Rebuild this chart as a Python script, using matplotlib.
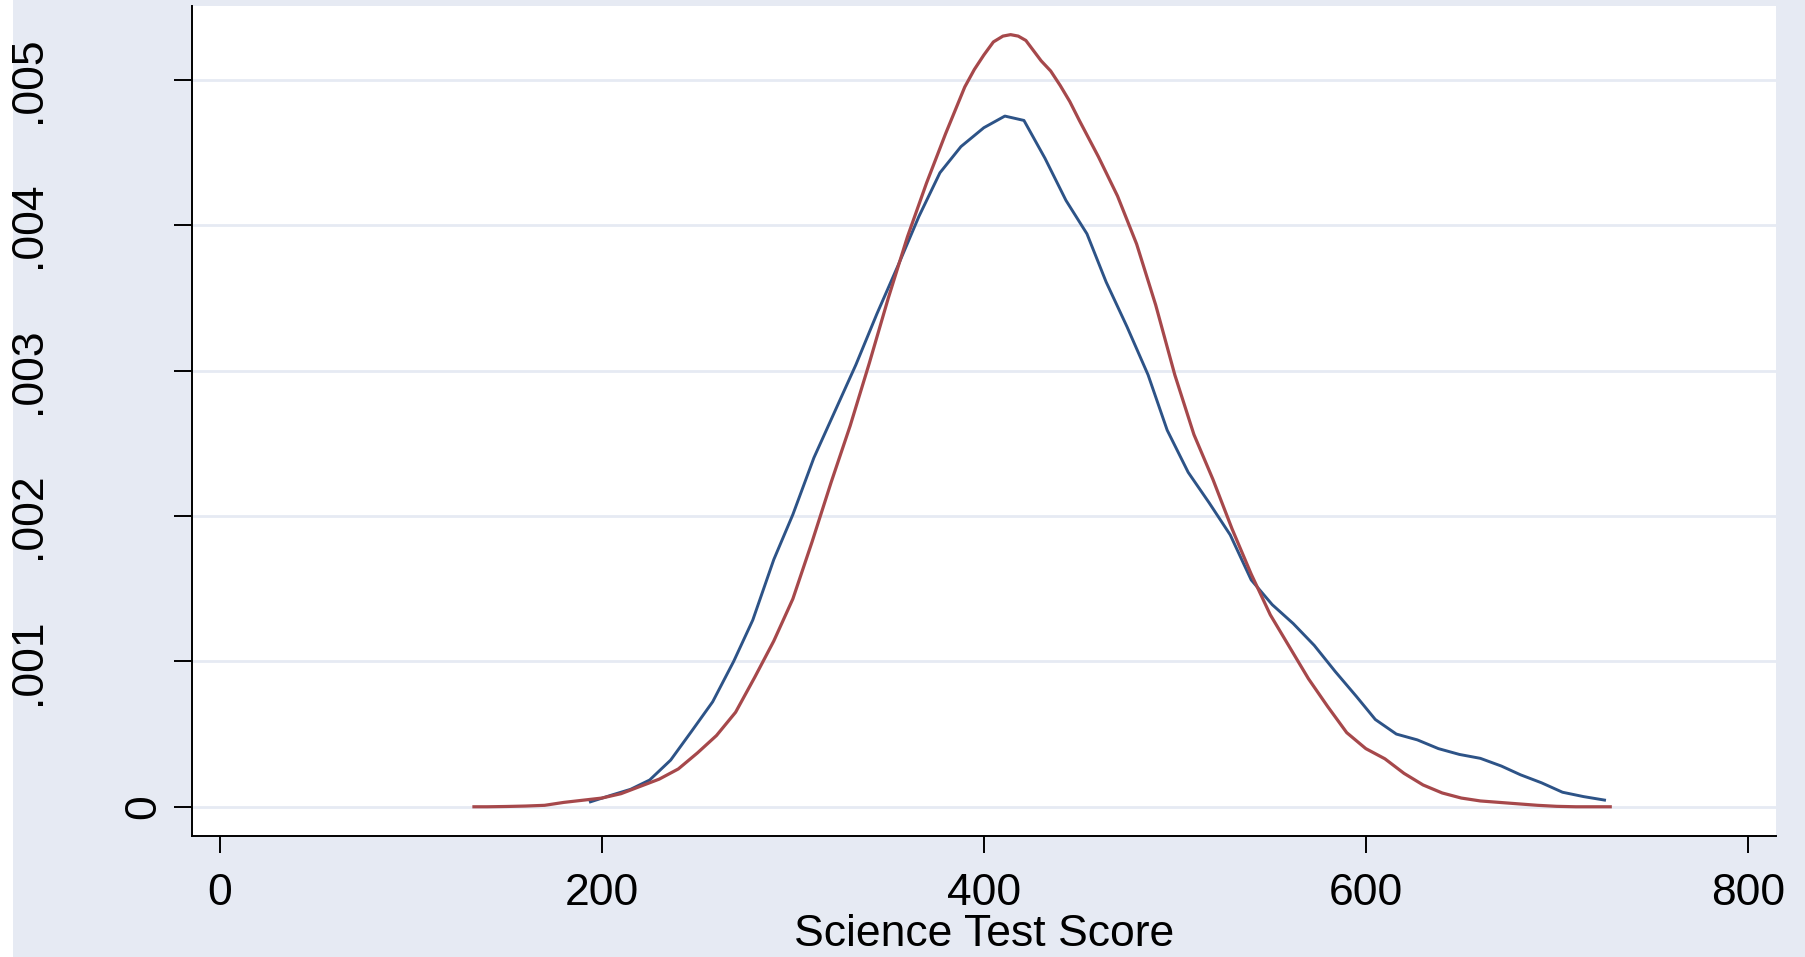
import numpy as np
from matplotlib import pyplot as plt
from matplotlib.transforms import blended_transform_factory
from matplotlib.patches import Rectangle

# kernel density of science score (blue)
kde_x = [194, 205, 215, 225, 236, 247, 258, 269, 279, 290,
         300, 311, 322, 333, 344, 355, 366, 377, 388, 400,
         411, 421, 432, 443, 454, 464, 475, 486, 496, 507,
         518, 529, 540, 551, 562, 573, 584, 595, 605, 616,
         627, 638, 649, 660, 671, 681, 692, 703, 714, 725]
kde_y = [0.000034, 0.00008, 0.00012, 0.000184, 0.000321, 0.00052, 0.000722, 0.001, 0.001284, 0.0017,
         0.00201, 0.0024, 0.00272, 0.00304, 0.00339, 0.00372, 0.00406, 0.00436, 0.00454, 0.00467,
         0.00475, 0.00472, 0.00446, 0.00417, 0.00394, 0.00361, 0.0033, 0.00297, 0.00259, 0.0023,
         0.00209, 0.00187, 0.00156, 0.00139, 0.00126, 0.00111, 0.00093, 0.00076, 0.0006, 0.0005,
         0.00046, 0.0004, 0.00036, 0.000333, 0.00028, 0.00022, 0.000165, 0.0001, 0.00007, 0.000046]

# normal density overlay (red)
norm_x = [133, 140, 150, 160, 170, 180, 190, 200, 210, 220,
          230, 240, 250, 260, 270, 280, 290, 300, 310, 320,
          330, 340, 350, 360, 370, 380, 390, 395, 400, 405,
          410, 414, 418, 422, 426, 430, 435, 440, 445, 450,
          460, 470, 480, 490, 500, 510, 520,
          530, 540, 550, 560, 570, 580, 590, 600, 610, 620,
          630, 640, 650, 660, 670, 680, 690, 700, 710, 720, 728]
norm_y = [0.0, 0.0, 0.000002, 0.000005, 0.00001, 0.00003, 0.000045, 0.00006, 0.00009, 0.00014,
          0.00019, 0.00026, 0.00037, 0.00049, 0.00065, 0.00089, 0.00114, 0.00143, 0.00182, 0.00223,
          0.00262, 0.00305, 0.0035, 0.00392, 0.00429, 0.00463, 0.00495, 0.00507, 0.00517, 0.00526,
          0.0053, 0.00531, 0.0053, 0.00527, 0.0052, 0.00513, 0.00506, 0.00496, 0.00485, 0.00472,
          0.00447, 0.0042, 0.00387, 0.00345, 0.00297, 0.00256, 0.00225,
          0.00191, 0.0016, 0.00132, 0.0011, 0.00088, 0.00069, 0.00051, 0.0004, 0.00033, 0.00023,
          0.00015, 0.000095, 0.00006, 0.00004, 0.00003, 0.00002, 0.00001, 0.000003, 0.0, 0.0, 0.0]

x_ticks = [0, 200, 400, 600, 800]
y_ticks = [0, 0.001, 0.002, 0.003, 0.004, 0.005]
y_tick_labels = ["0", ".001", ".002", ".003", ".004", ".005"]
x_title = "Science Test Score"

bg = "#e6eaf3"
plt.rcParams["font.family"] = ["Liberation Sans", "DejaVu Sans"]

W, H = 1806, 957
fig = plt.figure(figsize=(W / 100, H / 100), dpi=100, facecolor="white")
fig.patches.append(Rectangle((13 / W, 0), 1, 1, transform=fig.transFigure,
                             facecolor=bg, edgecolor="none", zorder=-10))

ax = fig.add_axes([191.7 / W, (H - 836) / H, (1776 - 191.7) / W, (836 - 6) / H])
ax.set_facecolor("white")

ax.plot(kde_x, kde_y, color="#2d5387", lw=2.1, zorder=3)
ax.plot(norm_x, norm_y, color="#a6484b", lw=2.3, zorder=3)

ax.set_xlim(-14.8, 814.8)
ax.set_ylim(-0.000201, 0.005507)
ax.set_xticks(x_ticks)
ax.set_yticks(y_ticks)
ax.tick_params(axis="both", direction="out", width=1.4, color="black",
               labelleft=False, labelbottom=False)
ax.tick_params(axis="y", length=13)
ax.tick_params(axis="x", length=12)
ax.grid(axis="y", color=bg, lw=2.0, zorder=1)
ax.grid(axis="x", visible=False)
ax.set_axisbelow(True)
for s in ["top", "right"]:
    ax.spines[s].set_visible(False)
for s in ["left", "bottom"]:
    ax.spines[s].set_linewidth(1.4)
    ax.spines[s].set_color("black")

fs = 32
# x tick labels
trx = blended_transform_factory(ax.transData, fig.transFigure)
for t in x_ticks:
    ax.text(t, 52 / H, str(t), transform=trx, ha="center", va="baseline",
            fontsize=fs, clip_on=False)

# y tick labels, rotated like Stata draws them
try_ = blended_transform_factory(fig.transFigure, ax.transData)
for t, lab in zip(y_ticks, y_tick_labels):
    xb = 155 if lab == "0" else 40
    ax.text(xb / W, t, lab, transform=try_, rotation=90, rotation_mode="anchor",
            ha="center", va="baseline", fontsize=fs, clip_on=False)

fig.text(984 / W, 11 / H, x_title, ha="center", va="baseline", fontsize=fs)

fig.savefig("out.png", dpi=100, facecolor=fig.get_facecolor())
